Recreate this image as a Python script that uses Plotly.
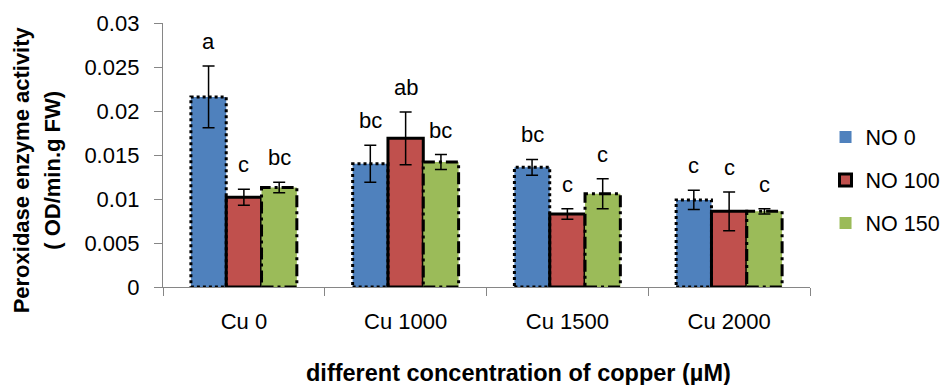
import plotly.graph_objects as go

categories = ["Cu 0", "Cu 1000", "Cu 1500", "Cu 2000"]
series_names = ["NO 0", "NO 100", "NO 150"]
no0 = [0.0216, 0.0140, 0.0136, 0.0099]
no0_err = [0.0035, 0.0021, 0.0009, 0.0011]
no100 = [0.0102, 0.0169, 0.0083, 0.0086]
no100_err = [0.0009, 0.0030, 0.0006, 0.0022]
no150 = [0.0113, 0.0142, 0.0106, 0.0086]
no150_err = [0.0006, 0.00085, 0.0017, 0.0003]
letters0 = ["a", "bc", "bc", "c"]
letters100 = ["c", "ab", "c", "c"]
letters150 = ["bc", "bc", "c", "c"]
y_ticks = [0, 0.005, 0.01, 0.015, 0.02, 0.025, 0.03]
y_ticktext = ["0", "0.005", "0.01", "0.015", "0.02", "0.025", "0.03"]
y_title_lines = ["Peroxidase enzyme activity", "( OD/min.g FW)"]
x_title = "different concentration of copper (µM)"

values = [no0, no100, no150]
errors = [no0_err, no100_err, no150_err]
letters = [letters0, letters100, letters150]
colors = ["#4F81BD", "#C0504D", "#9BBB59"]
border_dash = ["dot", "solid", "12px,4px,3px,4px"]

FONT = "Liberation Sans"
BARGAP = 0.345
W = (1 - BARGAP) / 3

fig = go.Figure()
for j in range(3):
    fig.add_trace(go.Bar(
        x=categories, y=values[j], name=series_names[j],
        marker=dict(color=colors[j],
                    line=dict(color="black", width=3 if j == 1 else 0)),
        error_y=dict(type="data", array=errors[j], visible=True,
                     color="black", thickness=1.5, width=6),
        legendgroup=series_names[j],
    ))

shapes = []
annotations = []
for j in range(3):
    for i in range(len(categories)):
        xc = i + (j - 1) * W
        if j != 1:
            shapes.append(dict(
                type="rect", xref="x", yref="y",
                x0=xc - W / 2, x1=xc + W / 2, y0=0, y1=values[j][i],
                line=dict(color="black", width=3, dash=border_dash[j]),
                fillcolor="rgba(0,0,0,0)", layer="above"))
        annotations.append(dict(
            x=xc, y=values[j][i] + errors[j][i], xref="x", yref="y",
            text=letters[j][i], showarrow=False, yanchor="bottom",
            yshift=10, font=dict(family=FONT, size=22, color="black")))

annotations.append(dict(
    x=0.55, y=-0.326, xref="paper", yref="paper", xanchor="center",
    yanchor="middle", showarrow=False,
    text="<b>" + x_title + "</b>",
    font=dict(family=FONT, size=23.5, color="black")))
for k, (line, xp) in enumerate(zip(y_title_lines, [-0.219, -0.172])):
    annotations.append(dict(
        x=xp, y=0.443, xref="paper", yref="paper", xanchor="center",
        yanchor="middle", showarrow=False, textangle=-90,
        text="<b>" + line + "</b>",
        font=dict(family=FONT, size=22, color="black")))

fig.update_layout(
    width=945, height=385,
    margin=dict(l=163, r=135, t=23, b=98, autoexpand=False),
    paper_bgcolor="white", plot_bgcolor="white",
    barmode="group", bargap=BARGAP, bargroupgap=0,
    font=dict(family=FONT, size=22, color="black"),
    shapes=shapes, annotations=annotations,
    showlegend=True,
    legend=dict(x=1.024, y=0.405, xanchor="left", yanchor="middle",
                traceorder="grouped", tracegroupgap=12,
                font=dict(family=FONT, size=21.5, color="black"),
                bgcolor="rgba(0,0,0,0)"),
    xaxis=dict(showline=True, linecolor="#868686", linewidth=1.3,
               ticks="outside", tickson="boundaries", ticklen=8,
               tickcolor="#868686", tickwidth=1.3,
               ticklabelstandoff=14,
               tickfont=dict(family=FONT, size=22, color="black"),
               showgrid=False, zeroline=False),
    yaxis=dict(range=[0, 0.03], tickvals=y_ticks, ticktext=y_ticktext,
               showline=True, linecolor="#868686", linewidth=1.3,
               ticks="outside", ticklen=8, tickcolor="#868686", tickwidth=1.3,
               ticklabelstandoff=10,
               tickfont=dict(family=FONT, size=22, color="black"),
               showgrid=False, zeroline=False),
)

fig.write_html("out.html")
